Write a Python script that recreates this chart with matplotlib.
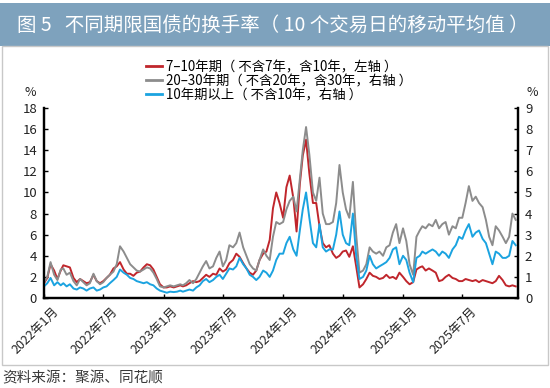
import matplotlib
matplotlib.use("Agg")
import matplotlib.pyplot as plt
import matplotlib.transforms as mtransforms
from matplotlib.patches import Rectangle
from matplotlib.lines import Line2D
import datetime as dt

plt.rcParams['font.family'] = ['Noto Sans CJK SC', 'DejaVu Sans']

# ---- data (sampled on the 1st, 11th and 21st of each month) ----
years = [2022, 2023, 2024, 2025]
days_of_month = [1, 11, 21]

red_2022 = [1.4,1.9,3.2, 2.6,1.8,2.6, 3.1,3.0,2.9, 1.9,1.5,1.8, 1.6,1.4,1.5, 2.2,1.6,1.4,
            1.6,1.9,2.2, 2.8,3.0,3.4, 2.7,2.3,2.3, 2.1,2.4,2.5, 2.9,3.2,3.1, 2.7,2.0,1.3]
red_2023 = [1.0,1.0,1.1, 1.0,1.1,1.2, 1.1,1.2,1.4, 1.6,1.5,1.6, 1.9,2.2,2.0, 2.3,2.2,2.8,
            2.5,2.7,3.3, 3.6,4.2,3.9, 3.3,2.8,2.4, 2.2,2.6,3.6, 4.2,4.4,5.5, 8.5,10.0,9.0]
red_2024 = [7.6,10.5,11.6, 9.5,6.3,10.8, 13.5,15.0,11.8, 9.0,9.0,6.8, 5.2,4.8,5.0, 4.2,3.8,4.0,
            4.4,4.5,3.9, 4.9,3.0,1.0, 1.3,1.8,2.4, 2.1,2.0,1.8, 1.9,2.2,1.9, 2.0,1.8,2.4]
red_2025 = [2.0,1.6,1.3, 1.5,2.7,2.9, 3.0,2.6,2.8, 2.6,2.4,1.6, 1.7,2.0,2.2, 1.9,1.8,1.6,
            1.6,1.8,1.7, 1.6,1.7,1.5, 1.7,1.6,1.5, 1.4,1.6,2.1, 1.7,1.2,1.1, 1.2,1.1]

gray_2022 = [0.75,1.0,1.7, 1.1,0.85,1.35, 1.4,1.1,1.2, 0.8,0.6,0.9, 0.75,0.6,0.7, 1.15,0.8,0.65,
             0.75,0.95,1.1, 1.25,1.6,2.45, 2.2,1.9,1.6, 1.45,1.3,1.25, 1.35,1.45,1.4, 1.2,0.9,0.55]
gray_2023 = [0.5,0.55,0.6, 0.55,0.6,0.65, 0.6,0.7,0.85, 0.7,0.9,1.2, 1.5,1.75,1.4, 1.5,1.9,2.2,
             1.5,1.8,2.5, 2.4,2.6,3.1, 2.4,2.0,1.6, 1.4,1.3,1.8, 2.3,2.0,1.8, 2.9,3.6,3.5]
gray_2024 = [3.6,4.2,4.6, 4.8,4.1,5.6, 7.0,8.1,6.8, 5.0,4.6,5.7, 4.0,3.5,3.5, 3.6,4.5,6.3,
             5.0,4.2,3.8, 5.5,3.0,1.2, 1.3,1.6,2.4, 2.2,2.1,2.2, 2.0,2.4,2.5, 3.1,3.5,2.6]
gray_2025 = [3.3,2.7,1.6, 1.1,2.9,3.2, 3.4,3.3,3.5, 3.4,3.7,3.3, 3.5,3.6,3.0, 3.4,3.3,3.8,
             3.8,4.5,5.3, 4.6,4.8,4.5, 4.3,3.7,2.9, 2.5,3.4,3.2, 2.9,2.6,2.9, 4.0,3.7]

blue_2022 = [0.55,0.7,0.95, 0.6,0.75,0.6, 0.7,0.55,0.65, 0.45,0.4,0.5, 0.45,0.35,0.45, 0.5,0.35,0.4,
             0.5,0.55,0.7, 0.85,1.0,1.35, 1.2,1.1,0.95, 0.9,0.8,0.75, 0.7,0.75,0.65, 0.6,0.45,0.35]
blue_2023 = [0.3,0.25,0.3, 0.28,0.3,0.35, 0.3,0.35,0.4, 0.35,0.5,0.6, 0.8,0.9,0.75, 0.85,1.0,1.1,
             0.9,1.15,1.4, 1.35,1.5,1.9, 1.6,1.4,1.1, 1.0,0.85,1.0, 1.3,1.2,1.0, 1.3,1.8,2.1]
blue_2024 = [2.1,2.6,2.9, 2.3,2.0,3.2, 4.2,5.0,3.8, 2.6,2.4,3.5, 2.4,2.2,2.3, 2.3,3.0,4.1,
             3.0,2.6,2.5, 4.0,2.0,0.9, 1.0,1.3,2.0, 1.6,1.4,1.5, 1.6,1.7,1.9, 2.3,2.4,1.6]
blue_2025 = [2.0,1.8,1.2, 0.75,1.9,2.0, 2.2,2.1,2.2, 2.3,2.2,2.0, 2.2,2.1,1.9, 2.3,2.5,2.9,
             2.8,3.2,3.5, 2.9,3.1,3.2, 2.8,2.6,2.1, 1.6,2.2,2.1, 1.9,1.9,2.0, 2.7,2.5]

red_vals = red_2022 + red_2023 + red_2024 + red_2025
gray_vals = gray_2022 + gray_2023 + gray_2024 + gray_2025
blue_vals = blue_2022 + blue_2023 + blue_2024 + blue_2025

dates = [dt.date(y, m, d) for y in years for m in range(1, 13) for d in days_of_month]
dates = dates[:len(red_vals)]

labels = ['7–10年期（ 不含7年，含10年，左轴 ）',
          '20–30年期（ 不含20年，含30年，右轴 ）',
          '10年期以上（ 不含10年，右轴 ）']
colors = ['#C0262C', '#8C8C8C', '#1BA3E0']

tick_dates = [dt.date(y, m, 1) for y in years for m in (1, 7)]
tick_labels = [f'{d.year}年{d.month}月' for d in tick_dates]

left_ticks = list(range(0, 19, 2))
right_ticks = list(range(0, 10))

# ---- figure ----
W, H = 550, 388
fig = plt.figure(figsize=(W / 100, H / 100), dpi=100)
fig.patch.set_facecolor('white')

# title banner
fig.patches.append(Rectangle((0, 1 - 46 / H), 1, 43 / H, transform=fig.transFigure,
                             facecolor='#7EA2BD', edgecolor='none', zorder=0))
fig.text(17 / W, 1 - 25 / H, '图 5   不同期限国债的换手率（ 10 个交易日的移动平均值 ）',
         color='white', fontsize=14, va='center', ha='left')
# chart frame
fig.patches.append(Rectangle((2 / W, 1 - 365 / H), 546 / W, 319 / H, transform=fig.transFigure,
                             facecolor='none', edgecolor='#C8C8C8', linewidth=1, zorder=0))
# source
fig.text(2 / W, 1 - 378 / H, '资料来源：聚源、同花顺', color='#3a3a3a', fontsize=10.5,
         va='center', ha='left')

ax = fig.add_axes([44 / W, 1 - 298 / H, (518 - 44) / W, (298 - 108) / H])
ax2 = ax.twinx()

ax.plot(dates, red_vals, color=colors[0], lw=1.4, zorder=3)
ax2.plot(dates, gray_vals, color=colors[1], lw=1.4)
ax2.plot(dates, blue_vals, color=colors[2], lw=1.4)

ax.set_ylim(0, 18)
ax2.set_ylim(0, 9)
ax.set_yticks(left_ticks)
ax2.set_yticks(right_ticks)
ax.set_xlim(dt.date(2022, 1, 1), dt.date(2025, 12, 18))
ax.set_xticks(tick_dates)
ax.set_xticklabels(tick_labels, rotation=45, ha='right', rotation_mode='anchor')

for a in (ax, ax2):
    a.spines['top'].set_visible(False)
    for s in ('left', 'right', 'bottom'):
        a.spines[s].set_linewidth(1.6)
        a.spines[s].set_color('black')
    a.tick_params(direction='in', length=3, width=1, labelsize=9.5, colors='black',
                  labelcolor='#222222')
ax.tick_params(axis='x', labelsize=9, pad=5)
ax.tick_params(axis='y', pad=5)
ax2.tick_params(axis='y', pad=5)
ax.set_facecolor('none')

offset = mtransforms.ScaledTranslation(0.08, 0.0, fig.dpi_scale_trans)
for lbl in ax.get_xticklabels():
    lbl.set_transform(lbl.get_transform() + offset)

fig.text(30 / W, 1 - 93 / H, '%', fontsize=9, ha='center', va='center', color='#222222')
fig.text(532 / W, 1 - 93 / H, '%', fontsize=9, ha='center', va='center', color='#222222')

handles = [Line2D([], [], color=c, lw=2) for c in colors]
fig.legend(handles, labels, loc='upper left', bbox_to_anchor=(146 / W, 1 - 60 / H),
           frameon=False, fontsize=9.6, handlelength=1.2, handletextpad=0.3,
           labelspacing=0.0, borderaxespad=0, borderpad=0)

fig.savefig('out.png', dpi=100)
